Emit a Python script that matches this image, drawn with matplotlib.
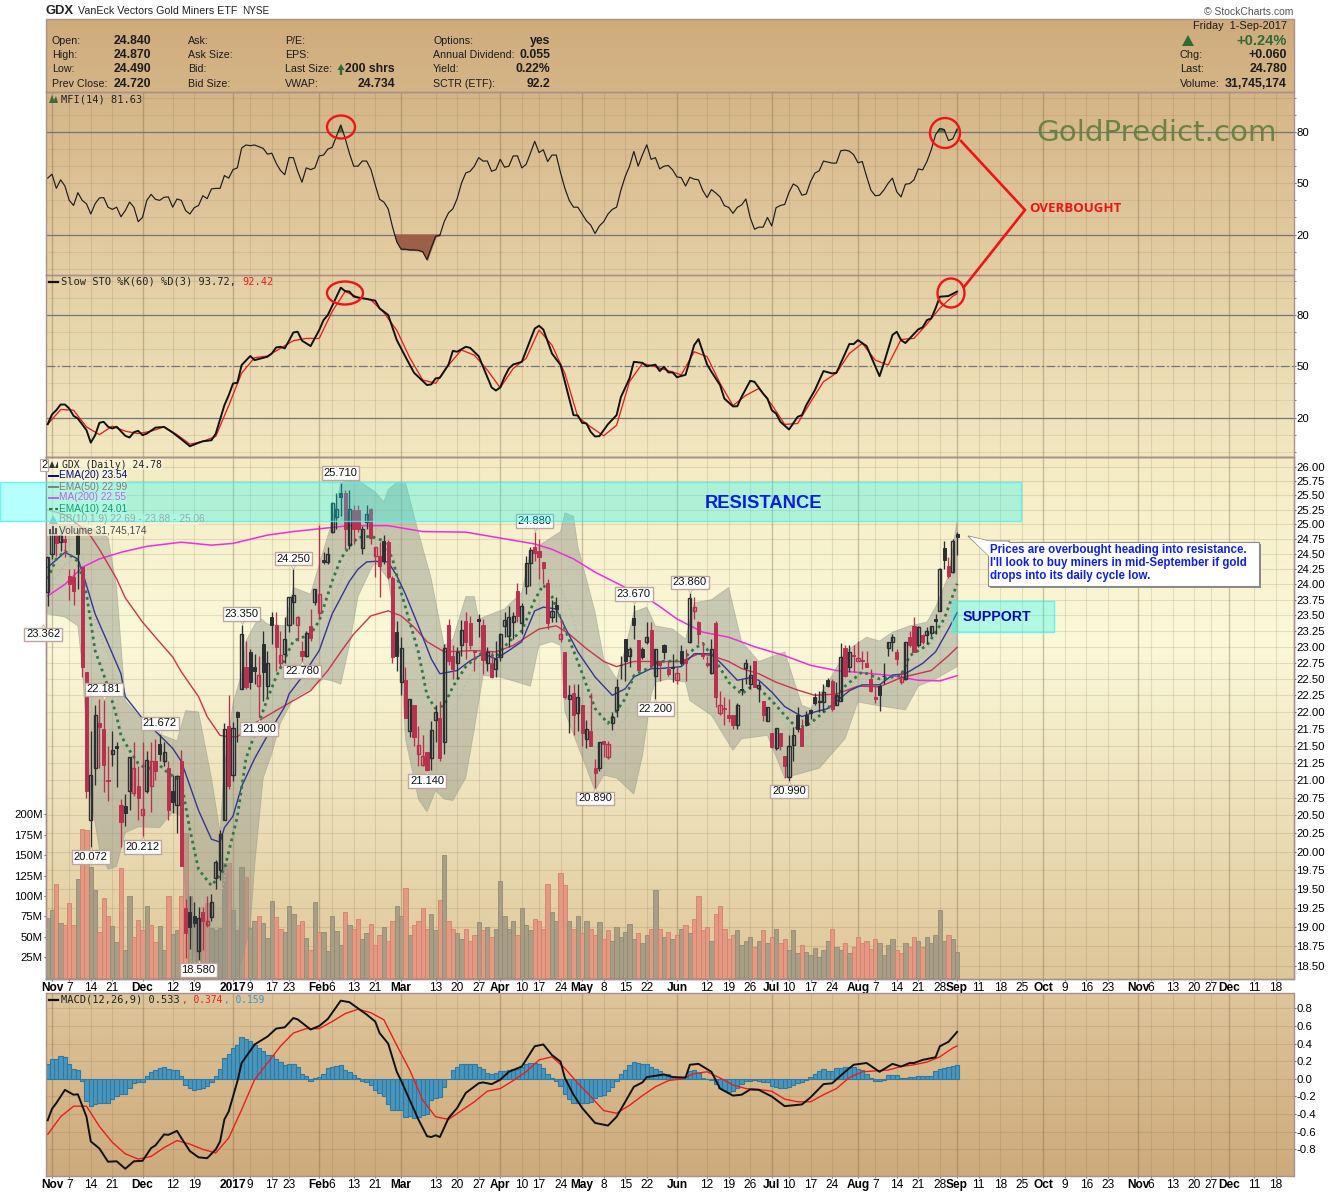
import numpy as np
import matplotlib
matplotlib.use("Agg")
import matplotlib.pyplot as plt
from matplotlib.patches import Ellipse, Polygon, Rectangle
from matplotlib.transforms import offset_copy

plt.rcParams['font.family'] = ['Liberation Sans', 'DejaVu Sans']

W, H = 1340, 1192
LEFT, RIGHT = 46, 1293.5

# daily bars, first one is the last trading day of Oct 2016 (day -1), Nov 1 2016 is day 0
opens = [
    23.87,24.50,24.83,24.70,24.75,24.14,24.12,24.83,24.28,22.61,
    20.43,21.18,21.84,21.75,21.00,21.37,21.50,20.65,20.63,20.84,
    20.82,20.92,20.51,20.84,20.92,21.27,21.53,21.28,21.18,20.84,
    20.65,21.28,19.25,19.19,19.14,18.69,19.19,19.03,19.13,19.65,
    19.75,20.43,21.79,21.07,22.00,22.35,22.69,22.92,22.69,22.39,
    23.05,22.39,23.47,23.34,22.74,22.89,23.34,23.72,23.34,22.94,
    22.86,23.33,23.72,23.54,24.40,24.37,24.88,25.12,25.55,25.55,
    24.65,25.25,25.25,24.60,25.04,25.27,24.47,24.47,24.72,24.70,
    24.10,23.23,22.45,22.48,21.72,22.11,21.37,21.22,21.40,21.32,
    21.88,21.91,21.56,23.34,22.86,22.74,23.03,23.41,23.38,22.94,
    23.44,23.34,22.74,22.74,22.66,22.84,23.33,23.17,23.39,23.89,
    23.38,23.97,24.35,24.62,24.55,24.37,24.02,23.47,23.66,23.12,
    22.92,22.19,22.28,21.99,22.10,21.60,21.72,21.18,21.17,21.57,
    21.34,21.84,22.03,22.72,23.12,22.86,23.45,23.11,22.97,23.08,
    23.26,22.55,22.78,23.02,22.66,22.69,22.48,22.94,22.81,23.08,
    23.57,23.39,22.89,22.75,22.59,23.38,21.99,22.06,21.95,21.95,
    21.81,22.35,22.67,22.42,22.77,22.36,22.17,21.87,21.68,21.46,
    21.69,21.35,21.04,21.51,21.95,21.76,21.95,22.03,22.23,22.15,
    22.15,22.48,22.47,22.11,22.17,22.98,22.69,22.87,22.77,22.80,
    22.74,22.50,22.23,22.39,22.55,22.98,23.08,22.91,22.45,22.50,
    23.15,23.33,23.02,23.19,23.19,23.22,23.44,23.57,24.60,24.30,
    24.20,24.84]
closes = [
    24.45,24.86,24.68,24.83,24.70,24.00,23.89,24.50,22.69,20.85,
    21.07,21.96,21.78,21.22,20.98,21.43,21.47,20.41,20.53,21.34,
    21.18,20.75,20.59,21.29,21.27,21.13,21.38,21.40,20.57,20.69,
    21.06,19.81,18.92,19.00,19.05,19.11,19.07,19.07,19.33,19.86,
    20.24,21.75,20.91,21.76,21.93,23.20,22.38,22.45,22.63,22.56,
    22.61,22.74,23.34,23.00,22.87,23.12,23.80,23.82,23.47,22.86,
    23.22,23.14,23.92,23.84,24.37,24.50,25.37,25.27,25.47,24.92,
    25.27,24.92,24.92,24.92,25.18,24.77,24.62,24.30,24.38,24.12,
    22.84,22.86,22.98,21.91,22.20,21.63,21.51,21.35,21.14,21.73,
    22.00,21.32,22.98,22.77,22.66,22.92,23.26,23.08,23.02,22.91,
    23.41,22.80,22.91,22.53,22.81,23.20,23.42,23.47,23.49,23.49,
    23.64,24.35,24.57,24.52,24.45,24.27,23.38,23.57,23.60,23.20,
    22.22,22.25,21.95,22.23,21.68,21.75,21.50,21.10,21.56,21.53,
    21.53,21.93,22.37,22.71,22.78,22.97,23.34,22.64,22.84,23.15,
    22.72,22.97,22.71,22.92,22.58,22.67,22.59,22.75,22.74,23.78,
    23.63,23.20,22.86,22.72,22.97,22.23,22.11,22.05,21.91,21.81,
    22.11,22.33,22.74,22.56,22.38,22.41,21.95,22.08,21.48,21.76,
    21.49,21.21,21.50,21.65,21.75,21.49,21.81,21.99,22.14,22.17,
    22.30,22.39,22.05,22.25,22.84,22.55,22.91,22.86,22.83,22.77,
    22.69,22.32,22.19,22.25,22.54,23.08,23.15,22.81,22.53,23.08,
    23.02,22.92,23.31,23.08,23.25,23.33,23.41,24.25,24.40,24.14,
    24.72,24.78]
highs = [
    24.45,24.95,24.92,24.92,24.83,24.25,24.25,24.92,24.28,22.61,
    21.71,22.10,22.20,22.18,21.50,21.71,21.56,20.73,20.80,21.34,
    21.56,21.21,21.56,21.42,21.56,21.60,21.67,21.56,21.27,21.07,
    21.07,21.43,19.36,19.41,19.32,19.26,19.26,19.41,19.43,19.89,
    20.30,21.84,22.25,21.85,22.02,23.35,23.09,22.97,22.89,22.86,
    23.25,22.94,23.55,23.55,23.25,23.47,23.80,24.25,23.49,23.09,
    23.25,23.60,23.92,24.99,24.53,24.62,25.39,25.55,25.71,25.60,
    25.60,25.33,25.33,24.97,25.33,25.29,24.62,24.70,24.83,24.73,
    24.14,23.41,23.15,22.69,22.20,22.11,21.79,21.65,21.40,21.87,
    22.10,22.17,23.05,23.44,23.02,23.00,23.42,23.55,23.49,22.94,
    23.52,23.44,23.00,22.94,23.09,23.22,23.55,23.64,23.55,24.03,
    23.70,24.47,24.62,24.88,24.75,24.37,24.09,23.75,23.80,23.44,
    22.92,22.40,22.43,22.43,22.10,21.88,22.28,21.31,21.56,21.57,
    21.57,22.00,22.50,22.86,23.12,23.00,23.67,23.11,23.00,23.39,
    23.39,22.97,22.78,23.05,22.77,22.89,22.69,23.02,22.97,23.86,
    23.80,23.41,23.08,22.86,23.12,23.41,22.31,22.23,22.20,21.95,
    22.14,22.50,22.81,22.71,22.78,22.47,22.17,22.08,21.68,21.76,
    21.69,21.35,21.65,21.78,22.08,21.90,22.02,22.05,22.28,22.31,
    22.42,22.52,22.50,22.45,23.06,23.02,23.02,23.02,23.09,22.94,
    22.94,22.66,22.40,22.42,22.75,23.08,23.20,22.97,22.63,23.08,
    23.25,23.47,23.33,23.20,23.31,23.33,23.52,24.27,24.72,24.45,
    24.75,24.87]
lows = [
    23.64,24.42,24.47,24.55,24.45,23.75,23.67,23.92,22.53,20.75,
    20.07,20.93,21.17,20.83,20.70,21.21,20.90,20.07,20.35,20.57,
    20.78,20.43,20.21,20.82,20.55,21.00,21.27,21.21,20.43,20.53,
    20.26,19.80,18.60,18.72,19.00,18.58,18.70,19.00,19.08,19.50,
    19.62,20.43,20.88,20.98,21.56,22.35,22.35,22.35,22.42,21.93,
    22.17,22.23,23.05,22.63,22.69,22.74,23.23,23.36,23.09,22.69,
    22.84,23.09,23.67,23.44,24.33,24.33,24.86,24.92,25.14,24.58,
    24.58,24.67,24.88,24.50,24.92,24.67,24.12,23.80,24.33,24.09,
    22.74,22.63,22.25,21.91,21.63,21.50,21.21,21.21,21.13,21.14,
    21.56,21.27,21.37,22.71,22.50,22.50,22.86,22.81,22.97,22.63,
    23.15,22.58,22.63,22.52,22.53,22.78,23.15,23.00,23.12,23.39,
    23.20,23.84,23.97,24.38,24.09,24.00,23.28,23.39,23.39,23.08,
    22.20,21.68,21.65,21.72,21.50,21.46,21.50,20.89,21.13,21.34,
    21.31,21.73,21.93,22.50,22.47,22.69,23.12,22.63,22.81,23.05,
    22.66,22.20,22.47,22.81,22.55,22.45,22.42,22.71,22.47,23.06,
    23.44,23.05,22.81,22.69,22.58,22.08,21.95,21.81,21.85,21.75,
    21.75,22.25,22.42,22.35,22.38,22.15,21.87,21.87,21.46,21.43,
    21.43,21.03,20.99,21.27,21.70,21.49,21.79,21.90,22.10,22.00,
    22.00,22.38,22.02,22.10,22.17,22.53,22.61,22.61,22.77,22.66,
    22.69,22.30,22.13,22.02,22.42,22.86,22.94,22.71,22.42,22.48,
    23.00,22.92,23.00,23.05,23.05,23.17,23.20,23.57,24.25,24.10,
    24.18,24.49]
# r = down day (red candle and red volume bar), k = up day
bar_tone = (
    "kkrkrrrkrr" "kkrrrkkrkk" "rrrkrrkkrk" "krrkkkrrkk" "kkrkkkrkkr" "kkkrrkkkrr" "krkrkkkkkr"
    "krrkkrrrkr" "rkkrkrrrrk" "krkrrkkrrr" "krkrkkkkkr" "kkkrrrrkkr" "rkrkrkrrkr" "rkkkkkkrkk"
    "rkrkrkrkrk" "rrrrkrrrrr" "kkkkrkrkrk" "rrkkkrkkkk" "kkrkkrkrrr" "rrrkkkkrrk" "rrkrkkkkkr" "kk")
volume = [
    73,83,115,67,64,91,64,121,182,181,135,107,56,98,75,63,44,134,34,100,
    50,71,58,88,64,44,63,34,100,53,58,100,177,100,66,73,73,91,61,59,
    61,140,141,83,59,135,123,61,70,76,67,49,94,74,60,56,88,78,64,69,
    49,34,93,56,56,33,75,57,40,81,64,
    60,72,48,55,66,40,52,62,45,70,
    88,76,110,52,64,70,85,60,78,58,
    95,150,70,60,55,48,60,45,52,68,
    58,62,50,60,118,75,60,70,52,85,
    64,58,72,70,60,115,80,70,128,113,
    70,60,75,55,70,60,52,68,48,58,
    45,62,50,56,66,48,55,42,52,60,
    108,60,50,56,48,52,60,65,55,72,
    100,58,62,45,78,88,60,48,52,58,
    40,45,50,38,45,58,42,50,60,42,
    48,34,58,30,40,32,28,36,25,34,
    45,60,38,34,42,30,38,50,42,45,
    35,48,42,28,40,48,34,30,42,38,
    50,45,38,50,42,52,83,45,52,48,32]

mfi = [
    53,55.3,47,52,48.4,40,37,44.5,40,38,32,38,41.4,41.6,36,34.7,36,30.4,34,39,
    36,27.5,30,40,43.5,40.6,40,41.8,42,36,40.8,40,34,32,35.7,37,42.7,41,46.7,47,
    47,54.5,53,58,59,70.6,72.4,72,72.4,71.4,70.4,67,67.6,61.8,57.5,55,65,65,57,50.6,
    59,58,59,66,66.5,70,71,77.5,84,76.5,67.6,60,60,63,63,58,49,40.6,39,35,
    24.5,15.7,11.4,11.4,11,11,10.8,10,5.3,12.4,19,19.6,27.5,32.7,35,41,50,56,57,60,
    65,63,63,57,58,64,59.4,60,66,66,59,61,67.6,74.5,68,69.6,62.7,66.5,66.5,56,
    47,40,36,36,32,28,25.5,20.6,25,27.5,32,34.7,36,46,54,60,68.6,60,66.7,72.5,
    64,65,58.4,60,60.4,57.8,53.7,53.3,48.4,53.5,52.4,52,45.7,41.6,46.3,44.3,42,36.9,35.9,32.4,
    35.9,37.3,40.8,29.8,23.1,24.3,24.3,30,25,35.7,37,37.6,44.7,49.6,48,43,43.7,51,55.9,57.3,
    63,62.4,61.8,61.8,69,69.4,68.8,66.7,62,62.7,54,46,42.7,43,46,50,53,45,42,49.4,
    49.8,52,58.4,57.8,62.7,69.6,78.4,82,81.4,75,76,81.63]

sto_k_days = [-1,0,1,2,3,4,5,6,8,9,10,11,12,13,14,15,17,18,19,20,21,22,24,26,28,30,32,34,35,37,38,40,41,42,43,44,46,47,50,51,52,53,54,
              55,56,57,58,60,62,63,64,67,68,69,70,71,73,75,76,78,80,82,84,87,88,89,90,92,93,94,96,97,99,101,102,103,104,
              105,106,107,109,112,113,114,116,118,121,122,123,124,125,126,127,129,131,132,134,135,137,138,140,141,142,143,144,145,147,
              149,150,152,153,155,156,158,159,160,162,163,165,166,167,168,169,171,173,174,175,177,179,181,182,185,186,187,189,
              192,193,195,196,197,198,201,202,203,204,205,206,208,210]
sto_k = [16.1,21.8,24.3,27.6,27.6,25.3,21,19.4,12.6,5.3,9.6,16.9,17.5,14.6,13.6,14.6,9.3,8.3,11.4,12.2,9.7,10.6,14.1,14.5,11.2,7.3,3.2,5.2,6.1,6.7,
         10.6,27.2,33,39.9,40.3,50.7,56,53.6,55.6,57.5,61,61.4,60.5,
         65,69.8,70.2,65,61.8,71.2,77,80,96,94,93.7,90.8,90.2,89.4,88.4,83.9,80,65.3,55.6,46.2,39,39.4,42.9,43.3,51,59,58.5,61.4,60.8,55.9,43.8,37.6,35.8,37.6,
         43.8,48.7,51,52.6,72,73.7,71.5,57.5,50.7,21.4,21.2,16.9,16.5,11.6,8.9,9.1,16.1,21.4,32,42.9,52.6,52,50,50.9,47.2,49.7,46.4,46.4,43.6,45,
         62.4,65.9,51,46.8,39,31.1,26.5,26.6,32.1,41.5,40.9,34,31.1,24.3,22.3,17.5,13,20.4,21.4,27.2,36,47.2,45.8,46.2,63,63,65.3,61.8,
         44.2,51.7,68.3,70.2,65.3,63.6,71.6,72.8,77,78,83.9,90.7,91.1,93.72]
sto_d_days = list(range(-1, 210, 3)) + [210]
sto_d = [
    16,24.7,24.3,14.5,10,15,12,10.6,12,14.5,10,4.4,6,9,27,46,55,56,60.5,65,
    66.3,66.3,82,93.7,90.4,88.8,81.4,71,55,42,40,50.7,59.5,56.5,47.8,37.4,48.7,54.6,71.2,62.4,
    45.8,20.4,14.5,9.3,15.5,41,51.7,49.7,47.4,45,58.5,55.6,40,27,33,37,27.5,16,16.5,29,
    41,46,57.5,63.4,53.6,50.7,65.7,66.3,74.7,84,91,92.42]

macd_days = [-1,0,1,3,5,6,8,9,11,13,15,17,19,21,23,24,26,27,29,30,32,34,36,38,39,40,41,43,44,47,50,52,54,56,57,60,62,64,67,69,73,75,76,78,
             80,81,83,85,87,88,89,90,92,94,96,99,100,102,104,106,109,112,114,116,118,119,121,123,126,129,131,133,135,137,138,142,144,147,
             148,150,153,155,158,160,162,164,167,170,174,176,179,181,184,186,189,192,195,197,199,200,202,205,206,208,210]
macd = [-0.47,-0.34,-0.275,-0.125,-0.18,-0.175,-0.43,-0.71,-0.79,-0.94,-0.935,-1.02,-0.935,-0.93,-0.785,-0.755,-0.63,-0.635,-0.59,-0.67,
        -0.82,-0.89,-0.90,-0.80,-0.71,-0.46,-0.37,-0.03,0.18,0.39,0.48,0.57,0.585,0.69,0.675,0.56,0.60,0.68,0.887,0.87,0.73,0.65,0.52,0.40,
        0.08,-0.02,-0.24,-0.46,-0.65,-0.66,-0.64,-0.66,-0.445,-0.33,-0.16,-0.05,-0.04,-0.06,-0.01,0.08,0.14,0.37,0.39,0.27,0.195,0.01,-0.18,-0.33,-0.50,-0.53,
        -0.43,-0.26,-0.09,-0.04,0.02,0.05,0.02,0.015,0.16,0.17,0.08,-0.11,-0.19,-0.18,-0.12,-0.125,-0.20,-0.31,-0.29,-0.21,-0.06,-0.05,0.08,0.16,0.18,0.08,
        0.17,0.14,0.18,0.18,0.215,0.245,0.37,0.42,0.533]
signal_days = list(range(-1, 210, 3)) + [210]
macd_signal = [
    -0.63,-0.43,-0.31,-0.31,-0.54,-0.72,-0.85,-0.91,-0.88,-0.78,-0.70,-0.74,-0.80,-0.84,-0.67,-0.35,-0.01,0.18,0.37,0.52,
    0.57,0.57,0.65,0.74,0.79,0.75,0.67,0.38,0.10,-0.24,-0.43,-0.46,-0.36,-0.26,-0.14,-0.11,-0.02,0.08,0.215,0.25,
    0.12,-0.05,-0.20,-0.36,-0.39,-0.30,-0.19,-0.09,-0.02,0,0.06,0.08,0.01,-0.07,-0.11,-0.12,-0.14,-0.23,-0.26,-0.26,
    -0.18,-0.11,0.015,0.08,0.09,0.10,0.14,0.16,0.19,0.25,0.35,0.374]
macd_hist = [
    0.166,0.22,0.22,0.26,0.25,0.166,0.11,0.10,-0.02,-0.25,-0.31,-0.29,-0.275,-0.275,-0.275,-0.23,-0.19,-0.17,-0.17,-0.105,
    -0.05,-0.04,-0.03,0.03,0.075,0.10,0.12,0.14,0.11,0.095,0.10,0.03,-0.07,-0.105,-0.13,-0.12,-0.10,-0.08,-0.04,0.035,
    0.11,0.24,0.28,0.355,0.385,0.47,0.45,0.43,0.38,0.35,0.32,0.27,0.27,0.23,0.19,0.16,0.166,0.166,0.13,0.05,
    0.03,-0.02,0.01,0.02,0.05,0.12,0.14,0.15,0.16,0.10,0.08,0.045,0.01,-0.02,-0.04,-0.075,-0.125,-0.165,-0.20,-0.29,
    -0.35,-0.355,-0.355,-0.43,-0.42,-0.44,-0.43,-0.41,-0.40,-0.24,-0.22,-0.21,-0.09,0,0.095,0.14,0.166,0.166,0.166,0.166,
    0.13,0.11,0.065,0.06,0.065,0.09,0.09,0.10,0.11,0.11,0.13,0.166,0.18,0.18,0.166,0.12,0.05,0.015,-0.02,-0.08,
    -0.17,-0.23,-0.275,-0.27,-0.27,-0.27,-0.265,-0.22,-0.20,-0.18,-0.14,-0.09,-0.02,0.055,0.10,0.16,0.19,0.175,0.166,0.17,
    0.13,0.11,0.085,0.06,0.05,0.03,0.01,0.01,0.02,0.085,0.10,0.065,0.015,0,-0.015,-0.06,-0.10,-0.125,-0.15,-0.136,
    -0.105,-0.06,-0.02,-0.02,-0.01,-0.02,-0.04,-0.04,-0.08,-0.09,-0.105,-0.105,-0.09,-0.07,-0.05,-0.03,-0.015,0.02,0.05,0.085,
    0.11,0.09,0.09,0.12,0.12,0.13,0.14,0.13,0.115,0.095,0.05,0.01,-0.02,-0.02,-0.01,0.04,0.04,0.04,0.01,0.015,
    0.02,0.025,0.035,0.03,0.03,0.035,0.085,0.11,0.12,0.14,0.15,0.159]

ema20_days = [-1,3,6,7,10,13,16,17,21,25,28,30,34,37,39,40,42,44,47,50,54,55,58,62,65,69,71,73,75,78,80,82,85,88,90,94,97,
              100,103,106,109,112,114,117,119,122,126,130,133,135,139,141,146,149,153,156,159,162,164,167,170,174,177,
              180,185,188,192,195,198,202,205,208,210]
ema20 = [24.28,24.53,24.42,24.22,23.52,23.05,22.58,22.23,21.90,21.65,21.46,21.27,20.57,20.17,20.13,20.33,20.49,20.91,21.31,
         21.65,22.08,22.27,22.53,22.94,23.52,24.05,24.25,24.37,24.38,24.37,24.14,23.84,23.33,22.81,22.58,22.63,22.78,
         22.89,22.81,22.94,23.08,23.57,23.63,23.60,23.31,22.92,22.53,22.25,22.35,22.53,22.66,22.66,22.69,22.89,22.89,
         22.69,22.48,22.52,22.48,22.30,22.08,21.93,22.00,22.05,22.32,22.41,22.41,22.56,22.58,22.74,22.92,23.28,23.54]
ema50_days = [-1,3,6,9,11,15,17,21,24,28,30,34,36,39,41,43,47,52,56,60,64,67,70,74,78,81,84,87,91,98,103,107,110,113,117,
              120,124,128,131,135,141,146,150,153,157,160,164,168,173,177,182,187,192,197,204,208,210]
ema50 = [25.25,25.17,25.00,24.80,24.58,24.09,23.78,23.39,23.15,22.84,22.61,22.23,21.93,21.65,21.63,21.63,21.83,22.02,22.17,
         22.32,22.63,22.92,23.20,23.49,23.57,23.49,23.31,23.08,22.92,22.94,22.92,23.02,23.15,23.28,23.33,23.20,22.97,
         22.77,22.69,22.77,22.77,22.77,22.89,22.86,22.77,22.66,22.58,22.45,22.33,22.25,22.27,22.39,22.38,22.52,22.63,22.86,22.99]
ma200_days = [-1,3,7,11,16,22,30,37,42,50,56,65,69,78,86,96,104,112,116,121,126,133,138,141,145,151,157,163,170,176,182,189,195,201,206,210]
ma200 = [23.81,24.00,24.28,24.42,24.53,24.63,24.70,24.65,24.68,24.82,24.88,24.95,24.98,24.98,24.88,24.87,24.77,24.67,24.58,
         24.42,24.20,23.95,23.78,23.64,23.44,23.23,23.15,23.00,22.86,22.71,22.63,22.59,22.55,22.48,22.47,22.55]
ema10_days = [-1,1,3,6,8,10,13,15,16,18,20,22,25,27,30,32,34,37,40,43,45,50,52,56,60,62,65,67,69,71,74,77,79,81,85,87,89,91,93,96,
              100,103,106,109,112,114,116,119,122,126,129,133,135,139,141,146,149,151,154,157,160,163,167,170,173,176,
              180,184,188,192,197,199,203,207,210]
ema10 = [24.09,24.42,24.55,24.38,23.84,22.94,22.38,21.93,21.65,21.43,21.24,21.16,21.21,21.10,20.98,20.30,19.76,19.54,19.76,20.48,
         21.31,22.20,22.53,23.09,23.20,23.41,24.05,24.42,24.63,24.78,24.80,24.72,24.42,23.87,22.92,22.25,22.05,22.10,22.38,22.69,
         22.92,22.84,23.08,23.25,23.75,23.99,23.80,23.28,22.77,22.05,21.83,22.20,22.55,22.69,22.77,22.78,22.97,23.05,22.78,22.45,
         22.27,22.42,22.17,21.95,21.75,21.83,22.05,22.39,22.61,22.50,22.55,22.86,23.02,23.44,24.01]
bb_mid_days = [-1,3,7,10,14,17,19,25,28,34,39,42,47,52,60,68,73,78,80,85,91,93,98,103,109,115,118,121,126,130,133,136,143,
               149,154,160,164,171,175,181,186,192,198,203,208,210]
bb_mid = [23.92,24.33,24.50,23.41,22.69,21.35,21.03,21.03,21.10,19.93,19.36,20.17,21.35,22.05,22.50,24.30,25.04,24.80,24.25,
          22.81,21.85,22.00,22.69,22.74,23.17,23.97,23.97,23.44,22.10,21.65,21.90,22.50,22.69,22.86,22.92,22.25,22.39,21.75,
          21.60,22.00,22.45,22.45,22.50,22.97,23.44,23.88]
bb_up_days = [-1,5,10,13,15,17,21,25,29,31,34,37,39,40,42,44,45,48,50,54,56,60,62,65,67,71,75,77,78,80,82,85,88,91,93,96,98,99,
              105,109,111,118,119,121,122,126,128,131,133,135,138,140,144,147,149,153,157,160,164,170,174,176,181,184,
              189,192,195,199,203,205,208,210]
bb_up = [25.00,25.00,24.92,24.78,23.95,22.17,21.87,21.67,21.57,22.02,22.00,21.03,20.26,21.21,22.13,22.58,23.09,23.47,23.36,23.33,
         23.95,23.84,24.33,25.05,25.73,25.77,25.56,25.39,25.60,25.73,25.73,24.87,24.09,23.02,23.12,23.80,23.80,23.44,
         23.60,23.87,24.55,24.88,25.20,25.14,24.63,23.55,22.81,22.50,22.97,23.55,23.63,23.33,23.28,23.12,23.70,23.75,23.95,
         23.08,22.77,22.92,22.10,22.05,22.55,22.92,23.15,23.09,23.23,23.33,23.39,23.63,24.14,25.06]
bb_low_days = [-1,3,6,7,9,11,13,15,17,20,25,28,30,31,34,36,39,43,46,47,49,51,53,56,60,63,65,67,69,71,74,75,78,81,82,85,87,89,91,93,96,98,
               100,104,111,113,116,118,119,122,126,128,131,135,137,139,140,143,147,148,153,158,160,166,170,178,184,187,191,
               198,201,205,210]
bb_low = [23.52,23.47,23.33,22.69,20.77,20.03,19.76,19.80,20.26,20.34,20.33,20.55,20.49,19.36,18.35,18.33,18.36,18.36,19.00,19.80,
          21.03,21.38,21.83,22.20,22.35,22.50,22.47,22.42,23.02,23.80,24.25,24.37,24.09,22.77,21.60,20.73,20.55,20.85,20.73,20.71,21.03,21.75,
          22.55,22.53,22.39,23.02,23.08,23.02,22.00,21.50,20.85,21.07,21.03,20.80,21.35,22.25,22.45,22.50,22.45,22.17,21.95,21.43,
          21.60,21.65,21.03,21.17,21.60,22.15,22.10,22.03,22.39,22.50,22.69]

# high/low value flags on the price chart: day, price, 1 when it sits above the bar
flag_days = [67,112,56,44,135,148,-2,12,58,48,25,140,87,126,171,9,21,34]
flag_prices = [25.710,24.880,24.250,23.350,23.670,23.860,23.362,22.181,22.780,21.900,21.672,22.200,21.140,20.890,20.990,20.072,20.212,18.580]
flag_above = [1,1,1,1,1,1,0,1,0,0,1,0,0,0,0,0,0,0]

tick_days = [0,4,9,14,21,28,33,42,46,51,55,62,65,70,75,81,89,94,99,104,109,113,118,123,128,133,138,145,152,157,162,
             167,171,176,181,187,191,196,201,206,210,215,220,225,230,235,240,245,252,255,260,265,269,273,279,284]
tick_names = ["Nov","7","14","21","Dec","12","19","2017","9","17","23","Feb","6","13","21","Mar","13","20","27","Apr","10","17","24",
              "May","8","15","22","Jun","12","19","26","Jul","10","17","24","Aug","7","14","21","28","Sep","11","18","25",
              "Oct","9","16","23","Nov","6","13","20","27","Dec","11","18"]
month_names = ["Nov","Dec","2017","Feb","Mar","Apr","May","Jun","Jul","Aug","Sep","Oct"]
price_ticks = [18.5+0.25*k for k in range(31)]

header_left = [("Open:","24.840"),("High:","24.870"),("Low:","24.490"),("Prev Close:","24.720")]
header_ask = ["Ask:","Ask Size:","Bid:","Bid Size:"]
header_mid = [("P/E:",""),("EPS:",""),("Last Size:","200 shrs"),("VWAP:","24.734")]
header_opt = [("Options:","yes"),("Annual Dividend:","0.055"),("Yield:","0.22%"),("SCTR (ETF):","92.2")]
header_quote = [("Chg:","+0.060"),("Last:","24.780"),("Volume:","31,745,174")]
header_rows = [41,55,69,84]


days = np.arange(-1, 211)
xlim = ((LEFT-52)/4.31, (RIGHT-52)/4.31)

fig = plt.figure(figsize=(W/100, H/100), dpi=100, facecolor="white")


def panel(top, bottom, z=2):
    a = fig.add_axes([LEFT/W, 1-bottom/H, (RIGHT-LEFT)/W, (bottom-top)/H], zorder=z)
    a.patch.set_visible(False)
    a.set_xlim(xlim)
    for s in a.spines.values():
        s.set_color("#a8918a")
        s.set_linewidth(1)
    return a


def gradient(a, top, bottom, stops_y, stops_rgb):
    rows = np.arange(top, bottom)
    img = np.stack([np.interp(rows, stops_y, [c[k] for c in stops_rgb]) for k in range(3)], axis=1)[:, None, :]/255
    a.imshow(img, extent=(LEFT, RIGHT, bottom, top), aspect="auto", interpolation="bilinear")


bg = fig.add_axes([0, 0, 1, 1], zorder=0)
bg.axis("off")
gradient(bg, 19, 457, [19, 457], [(207,171,124), (242,232,192)])
gradient(bg, 457, 979, [457, 640, 979], [(244,235,195), (251,249,217), (222,198,152)])
gradient(bg, 993, 1176, [993, 1176], [(222,197,154), (205,170,124)])
bg.set_xlim(0, W)
bg.set_ylim(H, 0)


def vgrid(a):
    for d, n in zip(tick_days, tick_names):
        if n in month_names:
            a.axvline(d, color="#7a6444", alpha=0.36, lw=1.0, zorder=0.5)
        else:
            a.axvline(d, color="#7a6444", alpha=0.17, lw=0.8, zorder=0.5)


def xlabels(a):
    a.set_xticks(tick_days)
    a.set_xticklabels(tick_names, fontsize=8.6)
    for lab in a.get_xticklabels():
        if lab.get_text() in month_names:
            lab.set_fontweight("bold")
    a.tick_params(axis="x", length=1.5, pad=0.5, color="#8a7a70")


def right_axis(a, ticks, labels, minor=None):
    a.yaxis.tick_right()
    a.set_yticks(ticks)
    a.set_yticklabels(labels, fontsize=8.2)
    if minor is not None:
        a.set_yticks(minor, minor=True)
    a.tick_params(axis="y", which="both", length=1.5, pad=0.6, color="#6a6a6a")
    a.yaxis.set_minor_formatter(plt.NullFormatter())


# MFI
ax_mfi = panel(91.5, 274.5)
ax_mfi.set_ylim(-3.4, 103.7)
vgrid(ax_mfi)
for v in range(0, 101, 10):
    ax_mfi.axhline(v, color="#7a6444", alpha=0.13, lw=0.8, zorder=0.5)
ax_mfi.axhline(80, color="#74767a", lw=0.9, zorder=1)
ax_mfi.axhline(20, color="#74767a", lw=0.9, zorder=1)
mfi_arr = np.array(mfi)
ax_mfi.fill_between(days, mfi_arr, 20, where=mfi_arr < 20, interpolate=True, color="#9c6049", zorder=1.5)
ax_mfi.fill_between(days, mfi_arr, 80, where=mfi_arr > 80, interpolate=True, color="#5a7340", zorder=1.5)
ax_mfi.plot(days, mfi, color="#1c1c1c", lw=0.85, zorder=2)
ax_mfi.set_xticks([])
right_axis(ax_mfi, [20, 50, 80], ["20", "50", "80"], list(range(0, 101, 10)))

# slow stochastic
ax_sto = panel(274.5, 457)
ax_sto.set_ylim(-3.1, 103.7)
vgrid(ax_sto)
for v in range(0, 101, 10):
    ax_sto.axhline(v, color="#7a6444", alpha=0.13, lw=0.8, zorder=0.5)
ax_sto.axhline(80, color="#74767a", lw=0.9, zorder=1)
ax_sto.axhline(20, color="#74767a", lw=0.9, zorder=1)
ax_sto.axhline(50, color="#74767a", lw=0.9, ls=(0, (7, 2, 1.5, 2)), zorder=1)
ax_sto.plot(sto_d_days, sto_d, color="#ee1c1c", lw=0.95, zorder=2)
ax_sto.plot(sto_k_days, sto_k, color="#111111", lw=1.4, zorder=3)
ax_sto.set_xticks([])
right_axis(ax_sto, [20, 50, 80], ["20", "50", "80"], list(range(0, 101, 10)))

# volume sits behind the price axes
ax_vol = panel(457, 979, z=1)
ax_vol.set_ylim(-1.5, (979-457)/0.817-1.5)
vgrid(ax_vol)
for p in price_ticks:
    yy = (979-(467+1466*np.log(26/p)))/0.817-1.5
    ax_vol.axhline(yy, color="#7a6444", alpha=0.17, lw=0.8, zorder=0.5)
vol_face = ["#e39a83" if t == "r" else "#a79e85" for t in bar_tone]
vol_edge = ["#d97f6c" if t == "r" else "#948b75" for t in bar_tone]
ax_vol.bar(days, volume, width=1.0, color=vol_face, edgecolor=vol_edge, linewidth=0.6, zorder=1)
ax_vol.set_xticks([])
ax_vol.set_yticks([25,50,75,100,125,150,175,200])
ax_vol.set_yticklabels(["25M","50M","75M","100M","125M","150M","175M","200M"], fontsize=8.2)
ax_vol.tick_params(axis="y", length=1.5, pad=1, color="#6a6a6a")

# price
ax = panel(457, 979)
ax.set_yscale("log")
ax.set_ylim(26*np.exp(-(979-467)/1466), 26*np.exp(10/1466))
ax.minorticks_off()
poly_x = list(bb_up_days)+list(bb_low_days[::-1])
poly_y = list(bb_up)+list(bb_low[::-1])
ax.fill(poly_x, poly_y, facecolor="#8f9488", alpha=0.46, edgecolor="#8f9488", lw=0.6, zorder=1)
ax.plot(bb_mid_days, bb_mid, color="#b8b8a8", lw=1.0, ls=(0, (1, 2)), zorder=1.5)
ax.plot(ma200_days, ma200, color="#f22be0", lw=1.1, zorder=2)
ax.plot(ema50_days, ema50, color="#cc3350", lw=1.0, zorder=2)
ax.plot(ema20_days, ema20, color="#33369a", lw=1.0, zorder=2)
ax.plot(ema10_days, ema10, color="#2c7a45", lw=2.0, ls=(0, (1, 1.4)), zorder=2)

for d, o, h, l, c, t in zip(days, opens, highs, lows, closes, bar_tone):
    col = "#b9314f" if t == "r" else "#2b2f33"
    ax.vlines(d, l, h, color=col, lw=0.95, zorder=3)
    top, bot = max(o, c), min(o, c)
    if c > o:
        ax.bar(d, top-bot, bottom=bot, width=0.72, facecolor="none", edgecolor=col, linewidth=1.0, zorder=4)
    else:
        ax.bar(d, top-bot, bottom=bot, width=0.72, facecolor=col, edgecolor=col, linewidth=0.7, zorder=4)

for d, p, up in zip(flag_days, flag_prices, flag_above):
    off = 7.6 if up else -7.6
    tip = offset_copy(ax.transData, fig=fig, y=2.4 if up else -2.4, units="points")
    ax.plot([d], [p], marker="v" if up else "^", ms=5, mfc="white", mec="#bda69a", mew=0.5,
            transform=tip, clip_on=False, zorder=5.5)
    ax.annotate("%.3f" % p, xy=(d, p), xytext=(0, off), textcoords="offset points", ha="center", va="center",
                fontsize=8, color="#111111", annotation_clip=False, zorder=6,
                bbox=dict(boxstyle="square,pad=0.16", fc="white", ec="#bda69a", lw=1))

xlabels(ax)
ax.set_xlim(xlim)
right_axis(ax, price_ticks, ["%.2f" % p for p in price_ticks])

# MACD
ax_macd = panel(993, 1176)
ax_macd.set_ylim(-1.102, 0.974)
vgrid(ax_macd)
macd_ticks = [-0.8,-0.6,-0.4,-0.2,0,0.2,0.4,0.6,0.8]
for v in macd_ticks:
    ax_macd.axhline(v, color="#7a6444", alpha=0.17, lw=0.8, zorder=0.5)
ax_macd.bar(days, macd_hist, width=1.0, color="#4c95ba", edgecolor="#2c7aa6", linewidth=0.8, zorder=1)
ax_macd.plot(signal_days, macd_signal, color="#ee1c1c", lw=1.0, zorder=2)
ax_macd.plot(macd_days, macd, color="#111111", lw=1.4, zorder=3)
xlabels(ax_macd)
ax_macd.set_xlim(xlim)
right_axis(ax_macd, macd_ticks, ["-0.8","-0.6","-0.4","-0.2","0.0","0.2","0.4","0.6","0.8"])

# text and drawn notes on top, in pixel coordinates
ov = fig.add_axes([0, 0, 1, 1], zorder=10)
ov.set_xlim(0, W)
ov.set_ylim(H, 0)
ov.axis("off")

ov.add_patch(Rectangle((LEFT, 19), RIGHT-LEFT, 72.5, fill=False, ec="#a8918a", lw=1))
ov.text(46, 11, "GDX", fontsize=9.4, fontweight="bold", va="center", color="#222222")
ov.text(78, 11, "VanEck Vectors Gold Miners ETF", fontsize=7.7, va="center", color="#222222")
ov.text(242, 11.5, "NYSE", fontsize=7.2, va="center", color="#222222")
ov.text(1293, 12, "\u00a9 StockCharts.com", fontsize=7.5, va="center", ha="right", color="#555555")

for y, (lab, val) in zip(header_rows, header_left):
    ov.text(52, y, lab, fontsize=7.7, va="center", color="#1c1c1c")
    ov.text(151, y, val, fontsize=8.8, fontweight="bold", va="center", ha="right", color="#1c1c1c")
for y, lab in zip(header_rows, header_ask):
    ov.text(188, y, lab, fontsize=7.7, va="center", color="#1c1c1c")
for y, (lab, val) in zip(header_rows, header_mid):
    ov.text(285, y, lab, fontsize=7.7, va="center", color="#1c1c1c")
    ov.text(395, y, val, fontsize=8.8, fontweight="bold", va="center", ha="right", color="#1c1c1c")
for y, (lab, val) in zip(header_rows, header_opt):
    ov.text(433, y, lab, fontsize=7.7, va="center", color="#1c1c1c")
    ov.text(550, y, val, fontsize=8.8, fontweight="bold", va="center", ha="right", color="#1c1c1c")
ov.add_patch(Polygon([(341, 64), (337.5, 70), (339.8, 70), (339.8, 75), (342.2, 75), (342.2, 70), (344.5, 70)],
                     fc="#2f6b33", ec="none"))
ov.text(1287, 26, "Friday  1-Sep-2017", fontsize=7.9, va="center", ha="right", color="#1c1c1c")
ov.text(1287, 41, "+0.24%", fontsize=10.5, fontweight="bold", va="center", ha="right", color="#2f6b33")
ov.add_patch(Polygon([(1182, 46), (1188, 35), (1194, 46)], fc="#2f6b33", ec="none"))
for y, (lab, val) in zip(header_rows[1:], header_quote):
    ov.text(1180, y, lab, fontsize=7.9, va="center", color="#1c1c1c")
    ov.text(1287, y, val, fontsize=8.9, fontweight="bold", va="center", ha="right", color="#1c1c1c")

MONO = "DejaVu Sans Mono"
ov.text(61, 99, "MFI(14) 81.63", fontsize=7.5, family=MONO, va="center", color="#222222")
ov.add_patch(Polygon([(49, 103), (52, 95), (54, 100), (56, 96), (58, 103)], fc="#3f6a35", ec="none"))
ov.plot([49, 58], [282, 282], color="#111111", lw=1.6)
ov.text(61, 282, "Slow STO %K(60) %D(3) 93.72,", fontsize=7.5, family=MONO, va="center", color="#222222")
ov.text(242, 282, "92.42", fontsize=7.5, family=MONO, va="center", color="#ee1c1c")
ov.plot([49, 58], [1000, 1000], color="#111111", lw=1.6)
ov.text(61, 1000, "MACD(12,26,9) 0.533", fontsize=7.5, family=MONO, va="center", color="#222222")
ov.text(182, 1000, ", 0.374", fontsize=6.9, family=MONO, va="center", color="#ee1c1c")
ov.text(224, 1000, ", 0.159", fontsize=6.9, family=MONO, va="center", color="#3a94d0")

# legend of the price panel, on pale plates behind each row
ov.text(41, 465, "2", fontsize=8, va="center", color="#111111",
        bbox=dict(boxstyle="square,pad=0.1", fc="white", ec="#bda69a", lw=0.8))
legend_rows = [(464.5, "GDX (Daily) 24.78", "#222222", 163), (475.5, "EMA(20) 23.54", "#000a80", 127),
               (486.5, "EMA(50) 22.99", "#8c7880", 127), (497.5, "MA(200) 22.55", "#c060f0", 127),
               (508.5, "EMA(10) 24.01", "#10a070", 127), (519.5, "BB(10,1.9) 22.69 - 23.88 - 25.06", "#8fb0a8", 199),
               (530.5, "Volume 31,745,174", "#4c4c4c", 144)]
for y, s, c, end in legend_rows:
    ov.add_patch(Rectangle((47, y-5.5), end-47, 11, fc="#fbf8dc", ec="none", alpha=0.62))
    if s.startswith("GDX"):
        ov.text(62, y, s, fontsize=7.0, family=MONO, va="center", color=c)
    else:
        ov.text(59, y, s, fontsize=7.3, va="center", color=c)
ov.plot([49, 58], [475.5, 475.5], color="#000a80", lw=1.4)
ov.plot([49, 58], [486.5, 486.5], color="#8c7880", lw=1.4)
ov.plot([49, 58], [497.5, 497.5], color="#c060f0", lw=1.4)
ov.plot([49, 58], [508.5, 508.5], color="#2c7a45", lw=1.6, ls=(0, (1.6, 1.2)))
ov.add_patch(Polygon([(49, 524), (53, 515), (58, 524)], fc="#a8c0b8", ec="none"))
for bx, bh in zip([49, 52, 55], [5, 8, 6]):
    ov.add_patch(Rectangle((bx, 534-bh), 2.2, bh, fc="#555555", ec="none"))
ov.add_patch(Polygon([(49, 468), (52, 461), (55, 468), (58, 461), (58, 468)], fc="#333333", ec="none"))

# resistance and support zones
ov.add_patch(Rectangle((0, 481.5), 1021, 39.5, fc=(0, 1, 1, 0.29), ec=(0.3, 0.95, 0.95, 0.8), lw=1))
ov.add_patch(Rectangle((952, 600.5), 102, 31, fc=(0, 1, 1, 0.29), ec=(0.3, 0.95, 0.95, 0.8), lw=1))
ov.text(764, 503.5, "RESISTANCE", fontsize=13.2, fontweight="bold", va="center", ha="center", color="#0a1ee0")
ov.text(997, 617, "SUPPORT", fontsize=10.2, fontweight="bold", va="center", ha="center", color="#0707c0")

ov.text(1157, 133, "GoldPredict.com", fontsize=21.2, family="DejaVu Sans", va="center", ha="center", color="#66803f", alpha=0.95)
ov.text(1029, 209, "OVERBOUGHT", fontsize=9.5, family="Open Sans", fontweight="bold", va="center", color="#f01414")
ov.plot([961, 1025, 964], [141, 210, 287], color="#f01414", lw=1.9, solid_joinstyle="miter")
for cx, cy, ew, eh in [(341, 127, 28, 23), (945, 133, 30, 30), (345, 293, 36, 23), (951, 293, 27, 29)]:
    ov.add_patch(Ellipse((cx, cy), ew, eh, fill=False, ec="#f01414", lw=1.7))

# callout box with shadow and pointer
ov.add_patch(Rectangle((990, 544), 271, 44, fc="#8a8a8a", ec="none"))
ov.add_patch(Polygon([(968, 536), (989, 541), (1010, 541), (989, 556)], fc="white", ec="#8a8a8a", lw=0.8))
ov.add_patch(Rectangle((987.5, 541.5), 271, 44, fc="white", ec="#8a8a8a", lw=0.8))
ov.add_patch(Polygon([(969, 536.5), (990, 541.5), (1010, 542), (989, 556)], fc="white", ec="none"))
for y, s in zip([550, 563, 576], ["Prices are overbought heading into resistance.",
                                  "I'll look to buy miners in mid-September if gold",
                                  "drops into its daily cycle low."]):
    ov.text(990, y, s, fontsize=8.3, fontweight="bold", va="center", color="#0d1fe8")

fig.savefig("out.png", dpi=100)
